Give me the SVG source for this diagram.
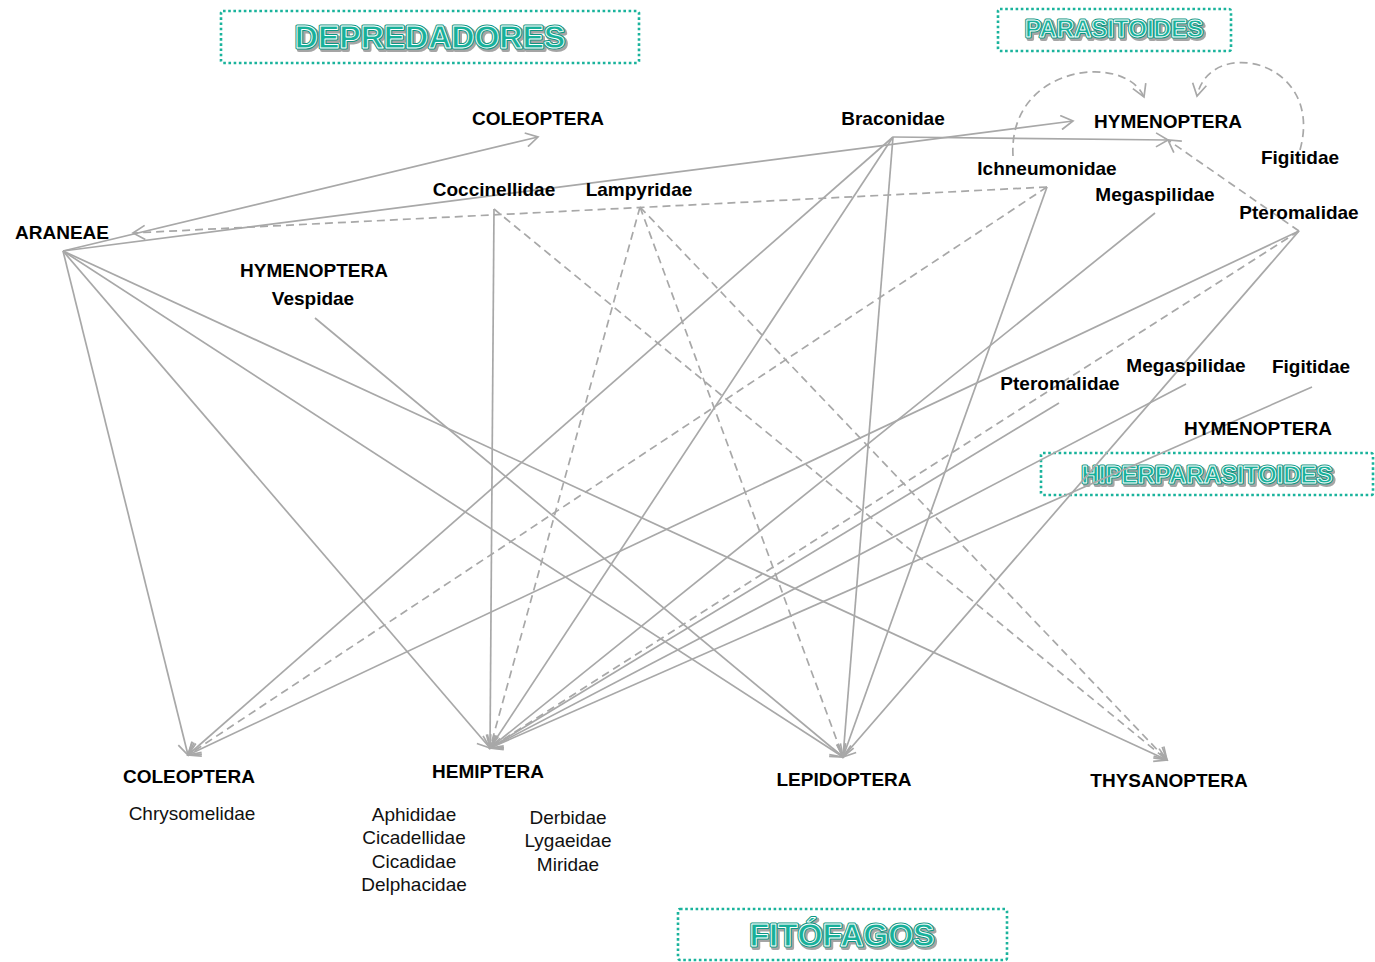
<svg xmlns="http://www.w3.org/2000/svg" width="1375" height="962" viewBox="0 0 1375 962">
  <defs>
    <style>
      .lbl { font-family: "Liberation Sans", Arial, sans-serif; font-size: 19px; font-weight: bold; fill: #000; text-anchor: middle; }
      .fam { font-family: "Liberation Sans", Arial, sans-serif; font-size: 19px; fill: #111; text-anchor: middle; }
      .box { fill: none; stroke: #1ab39c; stroke-width: 2.6; stroke-dasharray: 2.6 2.6; }
      .ttl-sh { font-family: "Liberation Sans", Arial, sans-serif; font-weight: bold; text-anchor: middle; fill: #8f8f8f; stroke: #8f8f8f; stroke-width: 4; stroke-linejoin: round; opacity: 0.8; }
      .ttl-rim { font-family: "Liberation Sans", Arial, sans-serif; font-weight: bold; text-anchor: middle; fill: #16ad95; stroke: #0f9682; stroke-width: 3; stroke-linejoin: round; }
      .ttl { font-family: "Liberation Sans", Arial, sans-serif; font-weight: bold; text-anchor: middle; fill: #18b09a; stroke: #ffffff; stroke-width: 0.9; stroke-linejoin: round; }
      .c { fill: none; stroke: #a8a8a8; stroke-width: 1.7; marker-end: url(#arr); }
      .d { stroke-dasharray: 8 5; }
    </style>
    <marker id="arr" markerUnits="userSpaceOnUse" viewBox="0 0 16 16" markerWidth="16" markerHeight="16" refX="14" refY="8" orient="auto">
      <path d="M2,1 L14,8 L2,15" fill="none" stroke="#a8a8a8" stroke-width="1.7"/>
    </marker>
    <filter id="soft" x="-5%" y="-20%" width="110%" height="140%">
      <feGaussianBlur stdDeviation="0.7"/>
    </filter>
  </defs>

  <rect width="1375" height="962" fill="#ffffff"/>

  <!-- group titles -->
  <g id="title-depredadores">
    <rect class="box" x="221" y="11" width="418" height="52" rx="2"/>
    <text class="ttl-sh" x="432" y="50" font-size="32" filter="url(#soft)">DEPREDADORES</text>
    <text class="ttl-rim" x="430" y="48" font-size="32">DEPREDADORES</text>
    <text class="ttl" x="430" y="48" font-size="32">DEPREDADORES</text>
  </g>
  <g id="title-parasitoides">
    <rect class="box" x="998" y="9" width="233" height="42" rx="2"/>
    <text class="ttl-sh" x="1116" y="39" font-size="24" filter="url(#soft)">PARASITOIDES</text>
    <text class="ttl-rim" x="1114" y="37" font-size="24">PARASITOIDES</text>
    <text class="ttl" x="1114" y="37" font-size="24">PARASITOIDES</text>
  </g>
  <g id="title-hiperparasitoides">
    <rect class="box" x="1041" y="453" width="332" height="42" rx="2"/>
    <text class="ttl-sh" x="1209" y="485" font-size="24" filter="url(#soft)">HIPERPARASITOIDES</text>
    <text class="ttl-rim" x="1207" y="483" font-size="24">HIPERPARASITOIDES</text>
    <text class="ttl" x="1207" y="483" font-size="24">HIPERPARASITOIDES</text>
  </g>
  <g id="title-fitofagos">
    <rect class="box" x="678" y="909" width="329" height="51" rx="2"/>
    <text class="ttl-sh" x="844" y="948" font-size="32" filter="url(#soft)">FITÓFAGOS</text>
    <text class="ttl-rim" x="842" y="946" font-size="32">FITÓFAGOS</text>
    <text class="ttl" x="842" y="946" font-size="32">FITÓFAGOS</text>
  </g>

  <!-- trophic links -->
  <g id="connectors">
    <!-- ARANEAE -->
    <path class="c" d="M63,251 L538,137"/>
    <path class="c" d="M63,251 L1073,121"/>
    <path class="c" d="M63,251 L188,755"/>
    <path class="c" d="M63,251 L490,748"/>
    <path class="c" d="M63,251 L843,757"/>
    <path class="c" d="M63,251 L1167,760"/>
    <!-- Coccinellidae / Lampyridae / Vespidae -->
    <path class="c" d="M494,209 L490,748"/>
    <path class="c d" d="M494,209 L1167,760"/>
    <path class="c d" d="M640,207 L490,748"/>
    <path class="c d" d="M640,207 L843,757"/>
    <path class="c d" d="M640,207 L1167,760"/>
    <path class="c" d="M315,318 L843,757"/>
    <!-- Braconidae -->
    <path class="c" d="M893,137 L1168,140"/>
    <path class="c" d="M893,137 L188,755"/>
    <path class="c" d="M893,137 L490,748"/>
    <path class="c" d="M893,137 L843,757"/>
    <!-- Ichneumonidae -->
    <path class="c d" d="M1047,187 L133,233"/>
    <path class="c d" d="M1047,187 L188,755"/>
    <path class="c" d="M1047,187 L843,757"/>
    <path class="c d" d="M1013,156 C1008,65 1125,52 1144,97"/>
    <!-- Megaspilidae -->
    <path class="c" d="M1155,213 L490,748"/>
    <!-- Pteromalidae -->
    <path class="c" d="M1299,231 L188,755"/>
    <path class="c" d="M1299,231 L843,757"/>
    <path class="c d" d="M1299,231 L490,748"/>
    <path class="c d" d="M1299,231 L1168,140"/>
    <!-- Figitidae -->
    <path class="c d" d="M1300,150 C1325,60 1210,35 1197,96"/>
    <!-- hyperparasitoids -->
    <path class="c" d="M1059,403 L490,748"/>
    <path class="c" d="M1186,384 L490,748"/>
    <path class="c" d="M1312,387 L490,748"/>
  </g>

  <!-- predators -->
  <g id="araneae"><text class="lbl" x="62" y="239">ARANEAE</text></g>
  <g id="coleoptera-pred"><text class="lbl" x="538" y="125">COLEOPTERA</text></g>
  <g id="coccinellidae"><text class="lbl" x="494" y="196">Coccinellidae</text></g>
  <g id="lampyridae"><text class="lbl" x="639" y="196">Lampyridae</text></g>
  <g id="hymenoptera-vespidae">
    <text class="lbl" x="314" y="277">HYMENOPTERA</text>
    <text class="lbl" x="313" y="305">Vespidae</text>
  </g>

  <!-- parasitoids -->
  <g id="hymenoptera-par"><text class="lbl" x="1168" y="128">HYMENOPTERA</text></g>
  <g id="braconidae"><text class="lbl" x="893" y="125">Braconidae</text></g>
  <g id="ichneumonidae"><text class="lbl" x="1047" y="175">Ichneumonidae</text></g>
  <g id="megaspilidae-par"><text class="lbl" x="1155" y="201">Megaspilidae</text></g>
  <g id="pteromalidae-par"><text class="lbl" x="1299" y="219">Pteromalidae</text></g>
  <g id="figitidae-par"><text class="lbl" x="1300" y="164">Figitidae</text></g>

  <!-- hyperparasitoids -->
  <g id="pteromalidae-hip"><text class="lbl" x="1060" y="390">Pteromalidae</text></g>
  <g id="megaspilidae-hip"><text class="lbl" x="1186" y="372">Megaspilidae</text></g>
  <g id="figitidae-hip"><text class="lbl" x="1311" y="373">Figitidae</text></g>
  <g id="hymenoptera-hip"><text class="lbl" x="1258" y="435">HYMENOPTERA</text></g>

  <!-- phytophages -->
  <g id="coleoptera-fit">
    <text class="lbl" x="189" y="783">COLEOPTERA</text>
    <text class="fam" x="192" y="820">Chrysomelidae</text>
  </g>
  <g id="hemiptera">
    <text class="lbl" x="488" y="778">HEMIPTERA</text>
    <text class="fam" x="414" y="821">Aphididae</text>
    <text class="fam" x="414" y="844">Cicadellidae</text>
    <text class="fam" x="414" y="868">Cicadidae</text>
    <text class="fam" x="414" y="891">Delphacidae</text>
    <text class="fam" x="568" y="824">Derbidae</text>
    <text class="fam" x="568" y="847">Lygaeidae</text>
    <text class="fam" x="568" y="871">Miridae</text>
  </g>
  <g id="lepidoptera"><text class="lbl" x="844" y="786">LEPIDOPTERA</text></g>
  <g id="thysanoptera"><text class="lbl" x="1169" y="787">THYSANOPTERA</text></g>
</svg>
